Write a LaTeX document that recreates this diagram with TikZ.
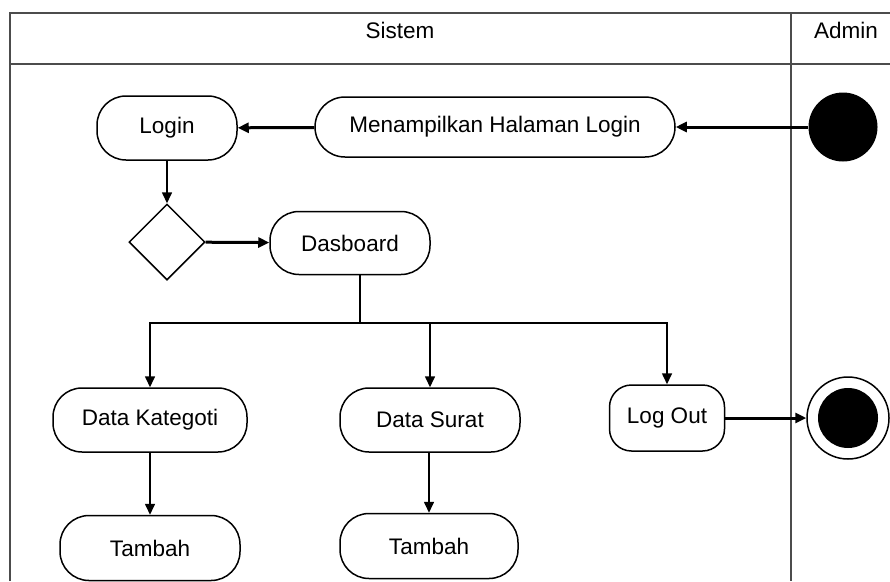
\documentclass[tikz,border=0pt]{standalone}
\usepackage{fontspec}
\setmainfont{Liberation Sans}
\usetikzlibrary{arrows.meta,shapes.geometric}

\begin{document}
\begin{tikzpicture}[x=1pt,y=-1pt,>={Triangle[length=11pt,width=10pt]},
    act/.style={draw,line width=1.5pt,rounded corners=29pt,minimum height=64pt,font=\fontsize{22.5}{26}\selectfont},
    lane/.style={draw=black!70,line width=1.3pt},
    flow/.style={->,line width=1.6pt},
    bigflow/.style={->,line width=3pt}]
        \useasboundingbox (0,0) rectangle (890,581);
        \draw[lane] (10,581) -- (10,13) -- (890,13);
        \draw[lane] (10,64) -- (890,64);
        \draw[lane] (791,13) -- (791,581);
        \node[font=\fontsize{22.5}{26}\selectfont] (sistem) at (400,30) {Sistem};
        \node[font=\fontsize{22.5}{26}\selectfont] (admin) at (846,30) {Admin};
        \node[circle,fill,minimum size=69pt] (mulai) at (843,127) {};
        \node[act,rounded corners=30pt,minimum width=360pt,minimum height=60pt] (tampil) at (495,127) {Menampilkan Halaman Login};
        \node[act,minimum width=140pt] (login) at (167,128) {Login};
        \node[diamond,draw,line width=1.5pt,minimum width=76pt,minimum height=76pt,inner sep=0pt] (cek) at (167,242) {};
        \node[act,minimum width=160pt,minimum height=63pt] (dash) at (350,243) {Dasboard};
        \foreach \x/\w/\name/\lab in {150/194/kat/Data Kategoti,430/180/surat/Data Surat}
          \node[act,minimum width=\w pt] (\name) at (\x,420) {\lab};
        \node[act,rounded corners=22pt,minimum width=115pt,minimum height=66pt] (keluar) at (667,418) {Log Out};
        \node[act,minimum width=180pt,minimum height=65pt] (tambahkat) at (150,548) {Tambah};
        \node[act,minimum width=178pt,minimum height=65pt] (tambahsurat) at (429,546) {Tambah};
        \node[circle,draw,line width=1.5pt,minimum size=82pt] (akhir) at (848,418) {};
        \node[circle,fill,minimum size=60pt] (akhirdot) at (akhir) {};
        \coordinate (bus) at (360,323);
        \draw[bigflow] (mulai) -- (tampil);
        \draw[bigflow] (tampil) -- (login);
        \draw[flow] (login) -- (cek);
        \draw[bigflow] (cek) -- (dash);
        \draw[line width=1.6pt] (dash.south -| bus) -- (bus);
        \draw[flow] (bus) -| (kat);
        \draw[flow] (bus) -| (surat);
        \draw[flow] (bus) -| (keluar);
        \draw[flow] (kat) -- (tambahkat);
        \draw[flow] (surat.south -| tambahsurat) -- (tambahsurat);
        \draw[bigflow] (keluar) -- (akhir);
      \end{tikzpicture}
\end{document}
